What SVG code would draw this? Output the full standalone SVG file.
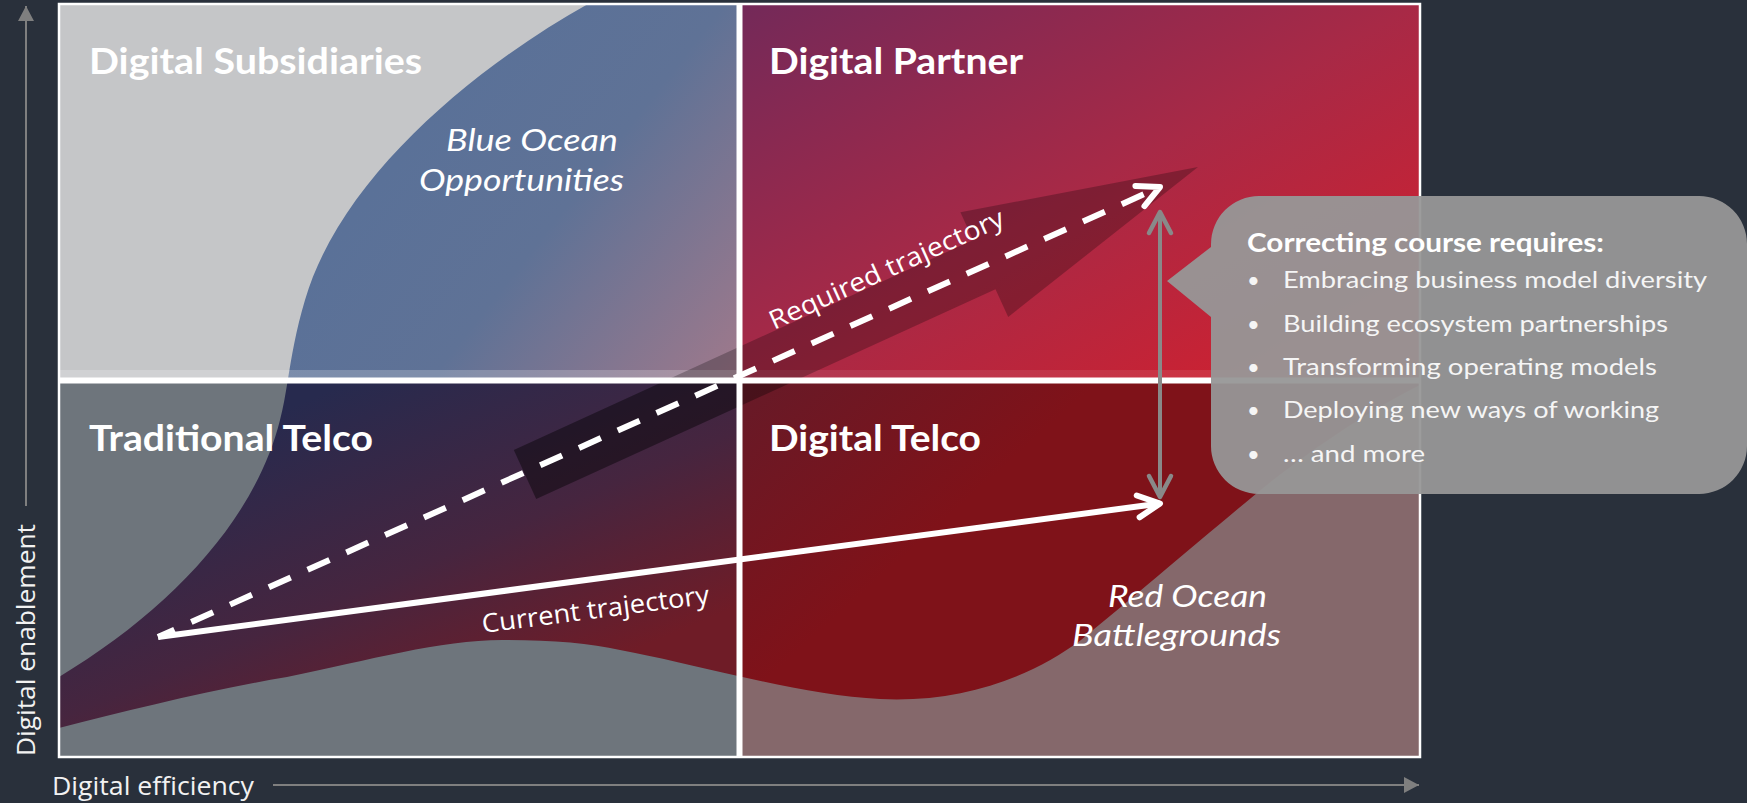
<svg xmlns="http://www.w3.org/2000/svg" width="1747" height="803" viewBox="0 0 1747 803">
<style>
.q{font-family:Lato,"Liberation Sans",sans-serif;font-weight:700;font-size:36px;fill:#fff}
.oc{font-family:Lato,"Liberation Sans",sans-serif;font-style:italic;font-size:31px;fill:#fff}
.tr{font-family:"Open Sans","Liberation Sans",sans-serif;font-size:26px;fill:#fff}
.ax{font-family:"Open Sans","Liberation Sans",sans-serif;font-size:25px;fill:#f2f2f2}
.axl{stroke:#7f7f7f;stroke-width:2;fill:none}
.ct{font-family:Lato,"Liberation Sans",sans-serif;font-weight:700;font-size:26px;fill:#fff}
.ci{font-family:Lato,"Liberation Sans",sans-serif;font-size:24px;fill:#f5f5f5}
.bu{font-family:Lato,"Liberation Sans",sans-serif;font-size:22px;fill:#f5f5f5}
.div{stroke:#fff;stroke-width:6}
</style>
<defs>
<clipPath id="cTL"><rect x="59" y="4" width="680" height="376"/></clipPath>
<clipPath id="cTR"><rect x="739" y="4" width="681" height="376"/></clipPath>
<clipPath id="cBL"><rect x="59" y="380" width="680" height="377"/></clipPath>
<clipPath id="cBR"><rect x="739" y="380" width="681" height="377"/></clipPath>
<clipPath id="cTop"><rect x="59" y="4" width="1361" height="376"/></clipPath>
<path id="ocean" d="M588,4 L1420,4 L1420,385 C1370,410 1310,450 1257,493 C1200,540 1130,600 1081,640 C1030,678 960,703 880,699 C800,695 700,665 620,650 C590,643 550,640 502,640 C440,640 370,660 287,677 C210,690 130,710 59,728 L59,677 C170,610 255,520 280,420 C288,390 290,350 305,300 C340,180 470,70 588,4 Z"/>
<polygon id="bigArrow" points="513.8,449.9 973.1,240 960.4,212.3 1198,167 1008.2,316.9 995.5,289.2 536.2,499.1"/>
<linearGradient id="gTL" gradientUnits="userSpaceOnUse" x1="420" y1="130" x2="739" y2="380">
<stop offset="0" stop-color="#5a7198"/><stop offset="0.4" stop-color="#5f7296"/><stop offset="1" stop-color="#a0798b"/>
</linearGradient>
<linearGradient id="gTR" gradientUnits="userSpaceOnUse" x1="739" y1="4" x2="1057" y2="580">
<stop offset="0" stop-color="#732959"/><stop offset="0.5" stop-color="#a82946"/><stop offset="1" stop-color="#d81f2b"/>
</linearGradient>
<linearGradient id="gBL" gradientUnits="userSpaceOnUse" x1="330" y1="390" x2="470" y2="720">
<stop offset="0" stop-color="#272a4e"/><stop offset="0.55" stop-color="#46253f"/><stop offset="1" stop-color="#6f1c27"/>
</linearGradient>
<linearGradient id="gBR" gradientUnits="userSpaceOnUse" x1="739" y1="380" x2="900" y2="560">
<stop offset="0" stop-color="#661a28"/><stop offset="1" stop-color="#7f1219"/>
</linearGradient>
<marker id="chev" markerUnits="userSpaceOnUse" viewBox="-30 -20 40 40" markerWidth="40" markerHeight="40" refX="0" refY="0" orient="auto" overflow="visible">
<path d="M-22,-11 L0,0 L-22,11" fill="none" stroke="#fff" stroke-width="6" stroke-linecap="round" stroke-linejoin="round"/>
</marker>
<marker id="chevG" markerUnits="userSpaceOnUse" viewBox="-30 -20 40 40" markerWidth="40" markerHeight="40" refX="0" refY="0" orient="auto-start-reverse" overflow="visible">
<path d="M-21,-11 L0,0 L-21,11" fill="none" stroke="#898989" stroke-width="4.5" stroke-linecap="round" stroke-linejoin="round"/>
</marker>
<marker id="axTip" markerUnits="userSpaceOnUse" viewBox="-20 -10 25 20" markerWidth="25" markerHeight="20" refX="0" refY="0" orient="auto" overflow="visible">
<path d="M0,0 L-15,-8 L-15,8 Z" fill="#7f7f7f"/>
</marker>
</defs>

<rect width="1747" height="803" fill="#29303b"/>

<g id="quadrants">
<g id="q-tl" clip-path="url(#cTL)">
<rect x="59" y="4" width="680" height="376" fill="#c5c6c8"/>
<use href="#ocean" fill="url(#gTL)"/>
<rect x="59" y="370" width="680" height="8" fill="#fff" opacity="0.2"/>
</g>
<g id="q-tr" clip-path="url(#cTR)">
<rect x="739" y="4" width="681" height="376" fill="#c5c6c8"/>
<use href="#ocean" fill="url(#gTR)"/>
<rect x="739" y="370" width="681" height="8" fill="#fff" opacity="0.08"/>
</g>
<g id="q-bl" clip-path="url(#cBL)">
<rect x="59" y="380" width="680" height="377" fill="#6e757c"/>
<use href="#ocean" fill="url(#gBL)"/>
</g>
<g id="q-br" clip-path="url(#cBR)">
<rect x="739" y="380" width="681" height="377" fill="#85686b"/>
<use href="#ocean" fill="url(#gBR)"/>
</g>
</g>

<g id="big-arrow">
<use href="#bigArrow" fill="#000" opacity="0.25" clip-path="url(#cTop)"/>
<use href="#bigArrow" fill="#000" opacity="0.42" clip-path="url(#cBL)"/>
<use href="#bigArrow" fill="#000" opacity="0.3" clip-path="url(#cBR)"/>
</g>

<g id="frame">
<rect x="59" y="4" width="1361" height="753" fill="none" stroke="#fff" stroke-width="2.5"/>
<line class="div" x1="739.5" y1="4" x2="739.5" y2="757"/>
<line class="div" x1="59" y1="380.5" x2="1420" y2="380.5"/>
</g>

<g id="axes">
<line class="axl" x1="26" y1="506" x2="26" y2="6" marker-end="url(#axTip)"/>
<line class="axl" x1="273" y1="785" x2="1419" y2="785" marker-end="url(#axTip)"/>
<text class="ax" x="52" y="795" textLength="202" lengthAdjust="spacingAndGlyphs">Digital efficiency</text>
<text class="ax" transform="translate(35,756) rotate(-90)" textLength="232" lengthAdjust="spacingAndGlyphs">Digital enablement</text>
</g>

<g id="connectors">
<path id="current-trajectory" d="M158,637 L1160,503.5" fill="none" stroke="#fff" stroke-width="6" marker-end="url(#chev)"/>
<path id="required-trajectory" d="M158,637 L1160,187" fill="none" stroke="#fff" stroke-width="6" stroke-dasharray="24 18.5" stroke-dashoffset="6" marker-end="url(#chev)"/>
<path id="gap-arrow" d="M1160,212 L1160,497" fill="none" stroke="#898989" stroke-width="4" marker-start="url(#chevG)" marker-end="url(#chevG)"/>
</g>

<g id="traj-labels">
<text class="tr" transform="translate(774,330) rotate(-24.4)" textLength="255" lengthAdjust="spacingAndGlyphs">Required trajectory</text>
<text class="tr" transform="translate(483,633) rotate(-7.4)" textLength="229" lengthAdjust="spacingAndGlyphs">Current trajectory</text>
</g>

<g id="node-digital-subsidiaries">
<text class="q" x="89" y="74" textLength="333" lengthAdjust="spacingAndGlyphs">Digital Subsidiaries</text>
</g>
<g id="node-digital-partner">
<text class="q" x="769" y="74" textLength="254" lengthAdjust="spacingAndGlyphs">Digital Partner</text>
</g>
<g id="node-traditional-telco">
<text class="q" x="89" y="451" textLength="284" lengthAdjust="spacingAndGlyphs">Traditional Telco</text>
</g>
<g id="node-digital-telco">
<text class="q" x="769" y="451" textLength="212" lengthAdjust="spacingAndGlyphs">Digital Telco</text>
</g>

<g id="node-blue-ocean">
<text class="oc" x="446" y="151" textLength="172" lengthAdjust="spacingAndGlyphs">Blue Ocean</text>
<text class="oc" x="419" y="191" textLength="205" lengthAdjust="spacingAndGlyphs">Opportunities</text>
</g>
<g id="node-red-ocean">
<text class="oc" x="1108" y="607" textLength="159" lengthAdjust="spacingAndGlyphs">Red Ocean</text>
<text class="oc" x="1072" y="646" textLength="209" lengthAdjust="spacingAndGlyphs">Battlegrounds</text>
</g>

<g id="node-callout">
<path d="M1259,196 H1699 A48,48 0 0 1 1747,244 V446 A48,48 0 0 1 1699,494 H1259 A48,48 0 0 1 1211,446 V317 L1167,281 L1211,247 V244 A48,48 0 0 1 1259,196 Z" fill="#979797" fill-opacity="0.95"/>
<text class="ct" x="1247" y="252" textLength="357" lengthAdjust="spacingAndGlyphs">Correcting course requires:</text>
<text class="bu" x="1247" y="288.3">•</text>
<text class="ci" x="1283" y="288.3" textLength="424" lengthAdjust="spacingAndGlyphs">Embracing business model diversity</text>
<text class="bu" x="1247" y="331.6">•</text>
<text class="ci" x="1283" y="331.6" textLength="385" lengthAdjust="spacingAndGlyphs">Building ecosystem partnerships</text>
<text class="bu" x="1247" y="374.9">•</text>
<text class="ci" x="1283" y="374.9" textLength="374" lengthAdjust="spacingAndGlyphs">Transforming operating models</text>
<text class="bu" x="1247" y="418.2">•</text>
<text class="ci" x="1283" y="418.2" textLength="376" lengthAdjust="spacingAndGlyphs">Deploying new ways of working</text>
<text class="bu" x="1247" y="461.5">•</text>
<text class="ci" x="1283" y="461.5" textLength="142" lengthAdjust="spacingAndGlyphs">… and more</text>
</g>
</svg>
